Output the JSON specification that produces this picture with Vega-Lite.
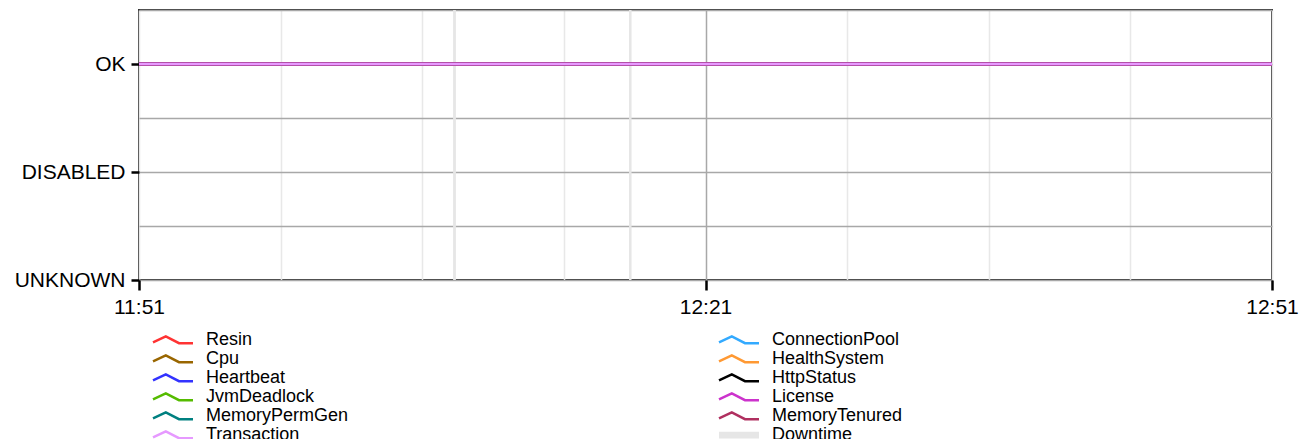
{
  "$schema": "https://vega.github.io/schema/vega-lite/v6.json",
  "width": 1133,
  "height": 270,
  "autosize": "none",
  "padding": {"left": 139, "top": 10, "right": 27, "bottom": 159},
  "background": "white",
  "config": {
    "view": {"stroke": "#333333", "strokeWidth": 2},
    "font": "Liberation Sans",
    "axis": {"labelFont": "Liberation Sans", "labelFontSize": 21, "labelColor": "#000000", "domain": false, "title": null},
    "legend": {"labelFont": "Liberation Sans", "labelFontSize": 18, "labelColor": "#000000"}
  },
  "datasets": {
    "status": [
      {"t": "2024-01-01T11:51:00", "series": "Resin", "value": 2},
      {"t": "2024-01-01T12:51:00", "series": "Resin", "value": 2},
      {"t": "2024-01-01T11:51:00", "series": "Cpu", "value": 2},
      {"t": "2024-01-01T12:51:00", "series": "Cpu", "value": 2},
      {"t": "2024-01-01T11:51:00", "series": "Heartbeat", "value": 2},
      {"t": "2024-01-01T12:51:00", "series": "Heartbeat", "value": 2},
      {"t": "2024-01-01T11:51:00", "series": "JvmDeadlock", "value": 2},
      {"t": "2024-01-01T12:51:00", "series": "JvmDeadlock", "value": 2},
      {"t": "2024-01-01T11:51:00", "series": "MemoryPermGen", "value": 2},
      {"t": "2024-01-01T12:51:00", "series": "MemoryPermGen", "value": 2},
      {"t": "2024-01-01T11:51:00", "series": "ConnectionPool", "value": 2},
      {"t": "2024-01-01T12:51:00", "series": "ConnectionPool", "value": 2},
      {"t": "2024-01-01T11:51:00", "series": "HealthSystem", "value": 2},
      {"t": "2024-01-01T12:51:00", "series": "HealthSystem", "value": 2},
      {"t": "2024-01-01T11:51:00", "series": "HttpStatus", "value": 2},
      {"t": "2024-01-01T12:51:00", "series": "HttpStatus", "value": 2},
      {"t": "2024-01-01T11:51:00", "series": "MemoryTenured", "value": 2},
      {"t": "2024-01-01T12:51:00", "series": "MemoryTenured", "value": 2},
      {"t": "2024-01-01T11:51:00", "series": "License", "value": 2},
      {"t": "2024-01-01T12:51:00", "series": "License", "value": 2},
      {"t": "2024-01-01T11:51:00", "series": "Transaction", "value": 2},
      {"t": "2024-01-01T12:51:00", "series": "Transaction", "value": 2}
    ],
    "downtime": [
      {"start": "2024-01-01T12:07:38", "end": "2024-01-01T12:07:47", "series": "Downtime"},
      {"start": "2024-01-01T12:16:57", "end": "2024-01-01T12:17:05", "series": "Downtime"}
    ]
  },
  "encoding": {
    "color": {
      "field": "series",
      "type": "nominal",
      "scale": {
        "domain": ["Resin", "Cpu", "Heartbeat", "JvmDeadlock", "MemoryPermGen", "Transaction", "ConnectionPool", "HealthSystem", "HttpStatus", "License", "MemoryTenured", "Downtime"],
        "range": ["#ff3333", "#996600", "#3333ff", "#55bb00", "#008080", "#e699ff", "#33aaff", "#ff9933", "#000000", "#cc33cc", "#b03060", "#e6e6e6"]
      },
      "legend": {
        "title": null,
        "orient": "none",
        "legendX": 25,
        "legendY": 321,
        "direction": "vertical",
        "columns": 2,
        "columnPadding": 365,
        "rowPadding": 1,
        "padding": 0,
        "labelOffset": 24,
        "labelBaseline": "middle",
        "symbolSize": 256,
        "symbolStrokeWidth": 2.5,
        "symbolType": "M-2.5,0.3L-0.9,-0.45L0.75,0.4L2.5,0.4",
        "labelLimit": 400,
        "encode": {
          "symbols": {
            "update": {
              "shape": {"signal": "datum.value === 'Downtime' ? 'M-2.5,-0.4H2.5V0.45H-2.5Z' : 'M-2.5,0.3L-0.9,-0.45L0.75,0.4L2.5,0.4'"},
              "fill": {"signal": "datum.value === 'Downtime' ? '#e6e6e6' : 'transparent'"},
              "fillOpacity": {"signal": "datum.value === 'Downtime' ? 1 : 0"},
              "strokeWidth": {"signal": "datum.value === 'Downtime' ? 0 : 2.5"}
            }
          }
        }
      }
    },
    "x": {
      "field": "t",
      "type": "temporal",
      "scale": {"domain": [{"year": 2024, "month": 1, "date": 1, "hours": 11, "minutes": 51}, {"year": 2024, "month": 1, "date": 1, "hours": 12, "minutes": 51}], "nice": false},
      "axis": {
        "values": [
          {"year": 2024, "month": 1, "date": 1, "hours": 11, "minutes": 51},
          {"year": 2024, "month": 1, "date": 1, "hours": 11, "minutes": 58, "seconds": 30},
          {"year": 2024, "month": 1, "date": 1, "hours": 12, "minutes": 6},
          {"year": 2024, "month": 1, "date": 1, "hours": 12, "minutes": 13, "seconds": 30},
          {"year": 2024, "month": 1, "date": 1, "hours": 12, "minutes": 21},
          {"year": 2024, "month": 1, "date": 1, "hours": 12, "minutes": 28, "seconds": 30},
          {"year": 2024, "month": 1, "date": 1, "hours": 12, "minutes": 36},
          {"year": 2024, "month": 1, "date": 1, "hours": 12, "minutes": 43, "seconds": 30},
          {"year": 2024, "month": 1, "date": 1, "hours": 12, "minutes": 51}
        ],
        "labelExpr": "((minutes(datum.value) === 21 || minutes(datum.value) === 51) && seconds(datum.value) === 0) ? timeFormat(datum.value, '%H:%M') : ''",
        "labelOverlap": false,
        "labelFlush": false,
        "labelPadding": 6,
        "tickSize": 10,
        "tickWidth": 2.5,
        "tickColor": {"condition": {"test": "(minutes(datum.value) === 21 || minutes(datum.value) === 51) && seconds(datum.value) === 0", "value": "#000000"}, "value": "transparent"},
        "grid": true,
        "gridWidth": 1.5,
        "gridColor": {"condition": {"test": "minutes(datum.value) === 21 && hours(datum.value) === 12", "value": "#a8a8a8"}, "value": "#e8e8e8"}
      }
    },
    "y": {
      "field": "value",
      "type": "quantitative",
      "scale": {"domain": [0, 2.5], "nice": false, "zero": true},
      "axis": {
        "values": [0, 0.5, 1, 1.5, 2, 2.5],
        "labelExpr": "datum.value === 2 ? 'OK' : datum.value === 1 ? 'DISABLED' : datum.value === 0 ? 'UNKNOWN' : ''",
        "labelPadding": 6,
        "tickSize": 8,
        "tickWidth": 2.5,
        "tickColor": {"condition": {"test": "datum.value === 0 || datum.value === 1 || datum.value === 2", "value": "#000000"}, "value": "transparent"},
        "grid": true,
        "gridWidth": 1.5,
        "gridColor": "#a8a8a8"
      }
    }
  },
  "layer": [
    {
      "data": {"name": "downtime"},
      "mark": {"type": "rect"},
      "encoding": {
        "x": {"field": "start", "type": "temporal"},
        "x2": {"field": "end"},
        "y": null
      }
    },
    {
      "data": {"name": "status"},
      "transform": [{"filter": "datum.series !== 'Transaction'"}],
      "mark": {"type": "line", "interpolate": "step-after", "strokeWidth": 3.2}
    },
    {
      "data": {"name": "status"},
      "transform": [{"filter": "datum.series === 'Transaction'"}],
      "mark": {"type": "line", "interpolate": "step-after", "strokeWidth": 2.6, "color": "#dc8cf0"}
    }
  ]
}
